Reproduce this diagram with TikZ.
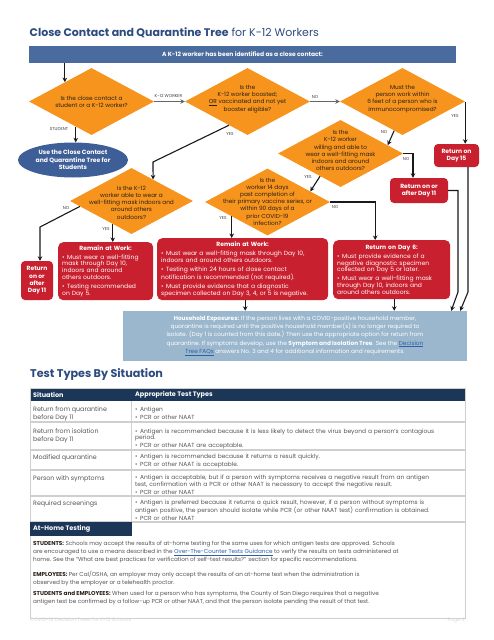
\documentclass[tikz,border=0pt]{standalone}
\usepackage{fontspec}
\setmainfont{Poppins}
\usetikzlibrary{shapes.geometric,arrows.meta}
\definecolor{ttl}{HTML}{2D4B7F}
\definecolor{barc}{HTML}{4A6B9E}
\definecolor{org}{HTML}{F7941D}
\definecolor{rd}{HTML}{C8202F}
\definecolor{ellc}{HTML}{3E5E97}
\definecolor{hhc}{HTML}{9BB7CD}
\definecolor{navy}{HTML}{1C3658}
\definecolor{txt}{HTML}{555555}
\definecolor{gridc}{HTML}{CFCFCF}
\definecolor{lnk}{HTML}{2F5FA8}
\definecolor{dtc}{HTML}{2A2118}
\definecolor{foot}{HTML}{D8D8D8}
\newlength\itgap
\setlength\itgap{1.3pt}
\newcommand\fitem[1]{\hangindent=5pt\hangafter=1\noindent\makebox[5pt][l]{\textbullet}#1}
\newcommand\bitem[1]{\par\vspace{\itgap}\fitem{#1}}
\newcommand\hd[1]{\makebox[\linewidth][c]{\bfseries #1}\par}
\newcommand\lnkk[1]{\textcolor{lnk}{\underline{#1}}}
\begin{document}
\begin{tikzpicture}[x=1pt,y=-1pt,
  dia/.style={shape=diamond, fill=org, minimum width=125pt, minimum height=67pt, inner sep=0pt},
  dtxt/.style={align=center, inner sep=0pt, text=dtc, font=\fontsize{5.8}{7.2}\selectfont},
  lbl/.style={inner sep=0pt, text=black!75, font=\fontsize{4.3}{5}\selectfont},
  arr/.style={draw=black!90, line width=1.1pt, -{Stealth[length=4.5pt,width=4.6pt]}},
  arrg/.style={draw=black!60, line width=1.1pt, -{Stealth[length=4.5pt,width=4.6pt]}},
  rbox/.style={fill=rd, rounded corners=4pt, text=white, inner sep=0pt, align=center, font=\fontsize{6}{7.3}\selectfont\bfseries},
  wbox/.style={fill=rd, rounded corners=5pt, text=white, inner xsep=4pt, inner ysep=2pt, align=left, font=\fontsize{6}{6.9}\selectfont\setlength\itgap{2pt}, anchor=north west},
  lc/.style={anchor=north west, inner sep=0pt, align=left, text=txt, font=\fontsize{6.3}{8.3}\selectfont},
  rc/.style={anchor=north west, inner sep=0pt, align=left, text=txt, text width=335pt, font=\fontsize{5.9}{6.1}\selectfont\setlength\itgap{1.9pt}},
  th/.style={anchor=west, inner sep=0pt, text=white, font=\fontsize{6.5}{7.5}\selectfont\bfseries},
  para/.style={anchor=north west, inner sep=0pt, align=left, text=txt, font=\fontsize{5.7}{7.9}\selectfont},
]
\useasboundingbox[fill=white] (0,0) rectangle (494,640);

% title
\node[anchor=base west, inner sep=0pt, text=ttl, font=\fontsize{11}{13}\selectfont] (title) at (29.5,36.7) {\textbf{Close Contact and Quarantine Tree} for K-12 Workers};
\node[fill=barc, minimum width=427pt, minimum height=17pt, inner sep=0pt, text=white, font=\fontsize{6}{7}\selectfont\bfseries] (bar) at (242.5,54.5) {A K-12 worker has been identified as a close contact:};

% diamonds
\node[dia] (d1) at (91.5,101.5) {};
\node[dia] (d2) at (247.5,101.5) {};
\node[dia] (d3) at (402.5,101.5) {};
\node[dia] (d4) at (340.5,153.5) {};
\node[dia] (d5) at (267.5,202) {};
\node[dia, minimum width=123pt, minimum height=66pt] (d6) at (131.5,201) {};

\node[dtxt] (t1) at (91.5,101.5) {Is the close contact a\\student or a K-12 worker?};
\node[dtxt] (t2) at (247.5,99) {Is the\\K-12 worker boosted;\\\underline{OR} vaccinated and not yet\\booster eligible?};
\node[dtxt] (t3) at (402.5,99) {Must the\\person work within\\6 feet of a person who is\\immunocompromised?};
\node[dtxt] (t4) at (340.5,150.5) {Is the\\K-12 worker\\willing and able to\\wear a well-fitting mask\\indoors and around\\others outdoors?};
\node[dtxt] (t5) at (267.5,201.5) {Is the\\worker 14 days\\past completion of\\their primary vaccine series, or\\within 90 days of a\\prior COVID-19\\infection?};
\node[dtxt] (t6) at (131.5,202.5) {Is the K-12\\worker able to wear a\\well-fitting mask indoors and\\around others\\outdoors?};

% ellipse
\node[ellipse, fill=ellc, minimum width=110pt, minimum height=35pt, inner sep=0pt] (st) at (73,160) {};
\node[align=center, inner sep=0pt, text=white, font=\fontsize{6.1}{7.6}\selectfont\bfseries] (stt) at (st) {Use the Close Contact\\and Quarantine Tree for\\Students};

% red outcome boxes
\node[rbox, minimum width=45pt, minimum height=23pt] (r15) at (456.5,155.5) {Return on\\Day 15};
\node[rbox, minimum width=58pt, minimum height=25pt] (r11b) at (419,190.5) {Return on or\\after Day 11};
\node[rbox, minimum width=32pt, minimum height=39pt] (r11a) at (37,280.5) {Return\\on or\\after\\Day 11};

\node[wbox, minimum width=95pt, minimum height=58pt, text width=87pt] (rw1) at (58,242) {\hd{Remain at Work:}\bitem{Must wear a well-fitting\\mask through Day 10,\\indoors and around\\others outdoors.}\bitem{Testing recommended\\on Day 5.}};
\node[wbox, minimum width=171pt, minimum height=62pt, text width=163pt] (rw2) at (157,238) {\hd{Remain at Work:}\bitem{Must wear a well-fitting mask through Day 10,\\indoors and around others outdoors.}\bitem{Testing within 24 hours of close contact\\notification is recommended (not required).}\bitem{Must provide evidence that a diagnostic\\specimen collected on Day 3, 4, or 5 is negative.}};
\node[wbox, minimum width=117pt, minimum height=59pt, text width=109pt] (rd6) at (333,240) {\hd{Return on Day 6:}\bitem{Must provide evidence of a\\negative diagnostic specimen\\collected on Day 5 or later.}\bitem{Must wear a well-fitting mask\\through Day 10, indoors and\\around others outdoors.}};

% household box
\node[fill=hhc, minimum width=344pt, minimum height=50pt, inner sep=0pt, text=white, align=center, font=\fontsize{5.8}{8.2}\selectfont] (hh) at (295,336) {\textbf{Household Exposures:} If the person lives with a COVID-positive household member,\\quarantine is required until the positive household member(s) is no longer required to\\isolate. (Day 1 is counted from this date.) Then use the appropriate option for return from\\quarantine. If symptoms develop, use the \textbf{Symptom and Isolation Tree}. See the \lnkk{Decision}\\\lnkk{Tree FAQs} answers No. 3 and 4 for additional information and requirements.};

% connectors
\draw[arr] (d1.144 |- bar.south) -- (d1.144);
\draw[arrg] (d1.east) -- (d2.west);
\draw[arrg] (d2.east) -- (d3.west);
\draw[arr] (d3.east) -- (d3.east |- r15.north);
\draw[arr] (d3.254) -- (d4.10);
\draw[arr] (d4.east) -| ([xshift=-6pt]r11b.north);
\draw[arr] (d4.228) -- (d5.14);
\draw[arr] (d5.east) -| ([xshift=-16.5pt]rd6.north);
\draw[arr] (d5.202) -- (d5.202 |- rw2.north);
\coordinate (k1) at (153,162);
\draw[arr] (d2.232) -- (k1) -- (d6.45);
\draw[arr] (d1.238) -- (d1.238 |- st.north);
\coordinate (k2) at (40,227);
\draw[arr] (d6.186) -- (k2) -- (k2 |- r11a.north);
\draw[arr] (d6.231) -- (d6.231 |- rw1.north);
\draw[arr] ([xshift=2.5pt]rw2.south) -- ([xshift=2.5pt]rw2.south |- hh.north);
\draw[arr] ([xshift=2.5pt]rd6.south) -- ([xshift=2.5pt]rd6.south |- hh.north);
\coordinate (k3) at (458,292);
\draw[arr] (r11b.east) -| (k3) -- ([xshift=-16pt]hh.north east);
\coordinate (k4) at (468,292);
\draw[arr] ([xshift=11.5pt]r15.south) -- (k4) -- ([xshift=-7pt]hh.north east);

% connector labels
\node[lbl] (l1) at (168.5,96) {K-12 WORKER};
\node[lbl] (l2) at (315,96.7) {NO};
\node[lbl] (l3) at (455,116) {YES};
\node[lbl] (l4) at (384,132) {NO};
\node[lbl] (l5) at (406,159) {NO};
\node[lbl] (l6) at (308,177) {YES};
\node[lbl] (l7) at (335,207) {NO};
\node[lbl] (l8) at (223,218) {YES};
\node[lbl] (l9) at (230,134) {YES};
\node[lbl] (l10) at (59,129) {STUDENT};
\node[lbl] (l11) at (66,208) {NO};
\node[lbl] (l12) at (106,229) {YES};

% second heading
\node[anchor=base west, inner sep=0pt, text=ttl, font=\fontsize{11.2}{13}\selectfont\bfseries] (h2) at (30,377) {Test Types By Situation};

% table
\fill[navy] (30,388) rectangle (465,401);
\draw[gridc, line width=1pt] (30,388) rectangle (465,618);
\draw[gridc, line width=1pt] (131.5,401) -- (131.5,522);
\foreach \yy in {422,450,470,496,522} \draw[gridc, line width=1.2pt] (30,\yy) -- (465,\yy);
\fill[navy] (30,522) rectangle (131.5,535.5);
\node[th] (th1) at (33,394.5) {Situation};
\node[th] (th2) at (135,394.5) {Appropriate Test Types};
\node[th] (th3) at (33,528.7) {At-Home Testing};

\node[lc] (c1) at (33,406.5) {Return from quarantine\\before Day 11};
\node[lc] (c2) at (33,428.5) {Return from isolation\\before Day 11};
\node[lc] (c3) at (33,454.2) {Modified quarantine};
\node[lc] (c4) at (33,475) {Person with symptoms};
\node[lc] (c5) at (33,500.5) {Required screenings};

\node[rc] (e1) at (135,406.4) {\fitem{Antigen}\bitem{PCR or other NAAT}};
\node[rc] (e2) at (135,428.4) {\fitem{Antigen is recommended because it is less likely to detect the virus beyond a person’s contagious\\period.}\bitem{PCR or other NAAT are acceptable.}};
\node[rc] (e3) at (135,454.1) {\fitem{Antigen is recommended because it returns a result quickly.}\bitem{PCR or other NAAT is acceptable.}};
\node[rc] (e4) at (135,474.4) {\fitem{Antigen is acceptable, but if a person with symptoms receives a negative result from an antigen\\test, confirmation with a PCR or other NAAT is necessary to accept the negative result.}\bitem{PCR or other NAAT}};
\node[rc] (e5) at (135,499.4) {\fitem{Antigen is preferred because it returns a quick result, however, if a person without symptoms is\\antigen positive, the person should isolate while PCR (or other NAAT test) confirmation is obtained.}\bitem{PCR or other NAAT}};

\node[para] (p1) at (33,541.3) {\textcolor{dtc}{\textbf{STUDENTS:}} Schools may accept the results of at-home testing for the same uses for which antigen tests are approved. Schools\\are encouraged to use a means described in the \lnkk{Over-The-Counter Tests Guidance} to verify the results on tests administered at\\home. See the “What are best practices for verification of self-test results?” section for specific recommendations.};
\node[para] (p2) at (33,571.3) {\textcolor{dtc}{\textbf{EMPLOYEES:}} Per Cal/OSHA, an employer may only accept the results of an at-home test when the administration is\\observed by the employer or a telehealth proctor.};
\node[para] (p3) at (33,591.3) {\textcolor{dtc}{\textbf{STUDENTS and EMPLOYEES:}} When used for a person who has symptoms, the County of San Diego requires that a negative\\antigen test be confirmed by a follow-up PCR or other NAAT, and that the person isolate pending the result of that test.};

% footer
\node[anchor=west, inner sep=0pt, text=foot, font=\fontsize{5}{6}\selectfont] (f1) at (30,620) {COVID-19 Decision Trees for K-12 Schools};
\node[anchor=east, inner sep=0pt, text=foot, font=\fontsize{5}{6}\selectfont] (f2) at (465,620) {Page 4};
\end{tikzpicture}
\end{document}
